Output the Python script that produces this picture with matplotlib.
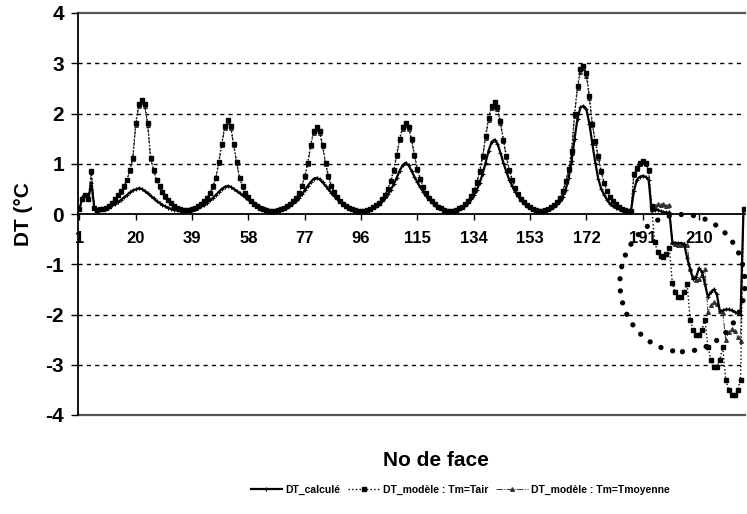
import matplotlib
matplotlib.use('Agg')
import matplotlib.pyplot as plt
from matplotlib.patches import Ellipse

plt.rcParams['font.family'] = ['Liberation Sans', 'DejaVu Sans']
plt.rcParams['font.weight'] = 'bold'
plt.rcParams['axes.unicode_minus'] = False

# numero de face 1..225
faces = list(range(1, 226))

dt_calcule = [
    0.10, 0.33, 0.38, 0.30, 0.62, 0.12, 0.08, 0.09, 0.10, 0.12,
    0.14, 0.17, 0.20, 0.24, 0.28, 0.33, 0.38, 0.43, 0.47, 0.49,
    0.51, 0.50, 0.46, 0.41, 0.36, 0.31, 0.26, 0.22, 0.18, 0.15,
    0.12, 0.10, 0.08, 0.07, 0.06, 0.05, 0.06, 0.07, 0.08, 0.10,
    0.12, 0.15, 0.18, 0.22, 0.27, 0.32, 0.38, 0.44, 0.50, 0.54,
    0.56, 0.54, 0.50, 0.46, 0.42, 0.37, 0.33, 0.29, 0.25, 0.21,
    0.17, 0.14, 0.11, 0.08, 0.06, 0.05, 0.06, 0.07, 0.09, 0.11,
    0.14, 0.17, 0.21, 0.26, 0.32, 0.39, 0.47, 0.56, 0.64, 0.70,
    0.72, 0.69, 0.63, 0.56, 0.49, 0.42, 0.36, 0.30, 0.25, 0.20,
    0.16, 0.13, 0.10, 0.08, 0.06, 0.05, 0.06, 0.08, 0.10, 0.13,
    0.16, 0.20, 0.25, 0.31, 0.39, 0.48, 0.59, 0.72, 0.86, 0.97,
    1.02, 0.97, 0.86, 0.74, 0.63, 0.53, 0.44, 0.36, 0.29, 0.23,
    0.18, 0.14, 0.11, 0.08, 0.06, 0.05, 0.06, 0.08, 0.10, 0.13,
    0.17, 0.22, 0.29, 0.37, 0.48, 0.62, 0.80, 1.02, 1.26, 1.43,
    1.48, 1.40, 1.22, 1.02, 0.84, 0.68, 0.55, 0.44, 0.35, 0.27,
    0.21, 0.16, 0.12, 0.09, 0.07, 0.05, 0.06, 0.07, 0.09, 0.12,
    0.15, 0.19, 0.25, 0.34, 0.48, 0.72, 1.05, 1.50, 1.90, 2.12,
    2.15, 2.08, 1.80, 1.40, 1.02, 0.70, 0.50, 0.38, 0.28, 0.20,
    0.15, 0.12, 0.10, 0.08, 0.06, 0.05, 0.04, 0.45, 0.68, 0.74,
    0.76, 0.74, 0.68, 0.05, 0.08, 0.08, 0.06, 0.04, 0.03, 0.03,
    -0.57, -0.57, -0.58, -0.58, -0.60, -0.88, -1.10, -1.30, -1.25, -1.08,
    -1.15, -1.40, -1.65, -1.55, -1.50, -1.60, -1.93, -1.92, -1.90, -1.90,
    -1.92, -1.95, -1.98, -2.00, 0.10,
]

dt_tair = [
    0.10, 0.30, 0.38, 0.30, 0.85, 0.12, 0.08, 0.09, 0.10, 0.12,
    0.16, 0.22, 0.30, 0.38, 0.45, 0.55, 0.68, 0.88, 1.12, 1.82,
    2.18, 2.27, 2.18, 1.82, 1.12, 0.88, 0.68, 0.55, 0.44, 0.35,
    0.28, 0.22, 0.16, 0.12, 0.09, 0.07, 0.07, 0.08, 0.10, 0.12,
    0.15, 0.19, 0.25, 0.32, 0.42, 0.55, 0.72, 1.04, 1.40, 1.76,
    1.87, 1.76, 1.40, 1.04, 0.72, 0.55, 0.42, 0.33, 0.26, 0.20,
    0.15, 0.12, 0.09, 0.07, 0.06, 0.05, 0.06, 0.08, 0.10, 0.12,
    0.15, 0.19, 0.25, 0.32, 0.42, 0.56, 0.75, 1.02, 1.38, 1.65,
    1.73, 1.65, 1.38, 1.02, 0.75, 0.56, 0.43, 0.33, 0.26, 0.20,
    0.15, 0.12, 0.09, 0.07, 0.06, 0.05, 0.06, 0.08, 0.10, 0.13,
    0.17, 0.22, 0.29, 0.38, 0.50, 0.66, 0.88, 1.18, 1.50, 1.73,
    1.82, 1.73, 1.50, 1.18, 0.90, 0.70, 0.54, 0.42, 0.32, 0.25,
    0.19, 0.14, 0.11, 0.08, 0.06, 0.05, 0.06, 0.08, 0.11, 0.14,
    0.19, 0.26, 0.35, 0.47, 0.63, 0.85, 1.15, 1.55, 1.92, 2.15,
    2.22, 2.12, 1.85, 1.48, 1.15, 0.88, 0.68, 0.52, 0.40, 0.30,
    0.23, 0.17, 0.13, 0.09, 0.07, 0.05, 0.06, 0.08, 0.10, 0.13,
    0.17, 0.23, 0.32, 0.45, 0.65, 0.90, 1.25, 2.00, 2.55, 2.88,
    2.95, 2.80, 2.35, 1.80, 1.45, 1.15, 0.85, 0.62, 0.46, 0.34,
    0.25, 0.19, 0.14, 0.10, 0.08, 0.06, 0.05, 0.80, 0.92, 1.02,
    1.06, 1.02, 0.88, 0.15, -0.55, -0.75, -0.84, -0.85, -0.80, -0.68,
    -1.38, -1.55, -1.65, -1.65, -1.55, -1.40, -2.10, -2.30, -2.40, -2.40,
    -2.30, -2.10, -2.65, -2.90, -3.05, -3.05, -2.90, -2.65, -3.30, -3.50,
    -3.60, -3.60, -3.50, -3.30, 0.10,
]

dt_tmoy = [
    0.10, 0.30, 0.37, 0.30, 0.83, 0.12, 0.08, 0.09, 0.10, 0.12,
    0.16, 0.21, 0.29, 0.37, 0.44, 0.54, 0.67, 0.86, 1.10, 1.78,
    2.15, 2.23, 2.15, 1.78, 1.10, 0.86, 0.67, 0.54, 0.43, 0.34,
    0.27, 0.21, 0.16, 0.12, 0.09, 0.07, 0.07, 0.08, 0.10, 0.12,
    0.15, 0.19, 0.25, 0.32, 0.41, 0.54, 0.71, 1.02, 1.37, 1.72,
    1.83, 1.72, 1.37, 1.02, 0.71, 0.54, 0.41, 0.32, 0.25, 0.20,
    0.15, 0.12, 0.09, 0.07, 0.06, 0.05, 0.06, 0.08, 0.10, 0.12,
    0.15, 0.19, 0.25, 0.32, 0.41, 0.55, 0.74, 1.00, 1.35, 1.62,
    1.70, 1.62, 1.35, 1.00, 0.74, 0.55, 0.42, 0.33, 0.26, 0.20,
    0.15, 0.12, 0.09, 0.07, 0.06, 0.05, 0.06, 0.08, 0.10, 0.13,
    0.17, 0.22, 0.29, 0.37, 0.49, 0.65, 0.86, 1.16, 1.47, 1.70,
    1.78, 1.70, 1.47, 1.16, 0.88, 0.69, 0.53, 0.41, 0.32, 0.25,
    0.19, 0.14, 0.11, 0.08, 0.06, 0.05, 0.06, 0.08, 0.11, 0.14,
    0.19, 0.26, 0.35, 0.46, 0.62, 0.84, 1.13, 1.52, 1.88, 2.11,
    2.18, 2.08, 1.82, 1.45, 1.13, 0.86, 0.67, 0.51, 0.39, 0.30,
    0.23, 0.17, 0.13, 0.09, 0.07, 0.05, 0.06, 0.08, 0.10, 0.13,
    0.17, 0.23, 0.31, 0.44, 0.64, 0.88, 1.22, 1.96, 2.50, 2.83,
    2.90, 2.75, 2.30, 1.77, 1.42, 1.12, 0.83, 0.61, 0.45, 0.33,
    0.25, 0.19, 0.14, 0.10, 0.08, 0.06, 0.05, 0.78, 0.90, 1.00,
    1.04, 1.00, 0.86, 0.12, 0.15, 0.20, 0.17, 0.20, 0.16, 0.18,
    -0.55, -0.60, -0.62, -0.62, -0.60, -0.62, -1.10, -1.25, -1.32, -1.30,
    -1.22, -1.10, -1.95, -1.82, -1.76, -1.80, -1.93, -1.97, -2.50, -2.35,
    -2.28, -2.32, -2.45, -2.52, 0.10,
]

x_ticks = [1, 20, 39, 58, 77, 96, 115, 134, 153, 172, 191, 210]
y_ticks = [-4, -3, -2, -1, 0, 1, 2, 3, 4]
grid_levels = [-3, -2, -1, 1, 2, 3]

fig = plt.figure(figsize=(7.47, 5.14), dpi=100)
ax = fig.add_axes([78 / 747, 99 / 514, 667 / 747, 402 / 514])

ax.plot(faces, dt_calcule, color='black', lw=1.6, marker='+', ms=3,
        mew=0.8, label='DT_calculé', zorder=5)
ax.plot(faces, dt_tair, color='black', ls=':', lw=1.0, marker='s', ms=2.4,
        label='DT_modèle : Tm=Tair', zorder=4)
ax.plot(faces, dt_tmoy, color='#333333', ls='-.', lw=0.7, marker='^', ms=2.6,
        label='DT_modèle : Tm=Tmoyenne', zorder=3)

for lev in grid_levels:
    ax.axhline(lev, color='black', lw=1.0, ls=(0, (3, 3)), zorder=1)
ax.axhline(4, color='#555555', lw=1.6, clip_on=False, zorder=1)
ax.axhline(-4, color='#555555', lw=1.6, clip_on=False, zorder=1)

# cercle en pointilles autour de la zone negative
circ = Ellipse((204.4, -1.375), 42.2, 2.73, fill=False, ec='black', lw=3.8,
               ls=(0, (0.01, 2.3)), capstyle='round', clip_on=False, zorder=6)
ax.add_patch(circ)

ax.set_xlim(0.5, 225.5)
ax.set_ylim(-4, 4)
ax.set_xticks(x_ticks)
ax.set_yticks(y_ticks)

ax.spines['top'].set_visible(False)
ax.spines['right'].set_visible(False)
ax.spines['bottom'].set_position(('data', 0))
ax.spines['bottom'].set_linewidth(1.3)
ax.spines['left'].set_linewidth(1.3)

ax.tick_params(axis='x', direction='out', length=4, width=1, pad=8, labelsize=12)
ax.tick_params(axis='y', direction='out', length=5, width=1, pad=5, labelsize=15)

ax.set_ylabel('DT (°C', fontsize=15, fontweight='bold')
ax.yaxis.set_label_coords(-45 / 667, 0.5)

fig.text(436 / 747, 1 - 460 / 514, 'No de face', fontsize=15, fontweight='bold',
         ha='center', va='center')

fig.legend(loc='center', bbox_to_anchor=(460 / 747, 1 - 490 / 514), ncol=3,
           frameon=False, fontsize=7.5, handlelength=3.0, columnspacing=0.8,
           handletextpad=0.3)

fig.savefig('out.png', dpi=100)
